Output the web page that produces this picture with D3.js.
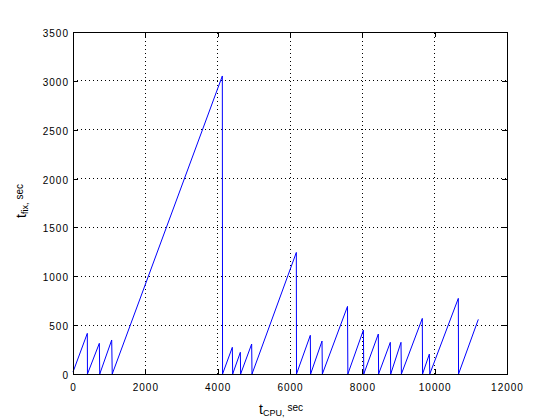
<!DOCTYPE html>
<html><head><meta charset="utf-8">
<script src="https://d3js.org/d3.v7.min.js"></script>
<style>
body{margin:0;background:#fff;}
svg{display:block;font-family:"Liberation Sans",Arial,Helvetica,sans-serif;}
</style></head><body>
<svg id="c" width="560" height="420"></svg>
<script>
// Polyline vertices of the sawtooth (t_CPU, t_fix)
const tCpu = [0,396,400,728,740,1070,1085,4129,4135,4405,4415,4627,4635,4940,4950,6175,6180,6562,6570,6885,6895,7590,7600,8030,8040,8442,8450,8774,8785,9069,9080,9658,9665,9853,9865,10654,10660,11207];
const tFix = [20,416,0,314,0,348,0,3050,0,273,0,222,0,307,0,1244,0,396,0,337,0,692,0,450,0,409,0,324,0,324,0,569,0,204,0,774,0,559];
const xTicks = [0,2000,4000,6000,8000,10000,12000];
const yTicks = [0,500,1000,1500,2000,2500,3000,3500];

const svg = d3.select("#c");
const L = 73, R = 507, T = 32, B = 374;
const x = d3.scaleLinear().domain([0,12000]).range([L,R]);
const y = d3.scaleLinear().domain([0,3500]).range([B,T]);

// grid
const g = svg.append("g").attr("shape-rendering","crispEdges");
g.selectAll(".gx").data(xTicks.slice(1,-1)).join("line")
  .attr("x1",d=>x(d)).attr("x2",d=>x(d)).attr("y1",B).attr("y2",T)
  .attr("stroke","#000").attr("stroke-width",1).attr("stroke-dasharray","1,3");
g.selectAll(".gy").data(yTicks.slice(1,-1)).join("line")
  .attr("y1",d=>y(d)).attr("y2",d=>y(d)).attr("x1",L).attr("x2",R)
  .attr("stroke","#000").attr("stroke-width",1).attr("stroke-dasharray","1,3");

// data line
const pts = tCpu.map((v,i)=>[v,tFix[i]]);
svg.append("path").datum(pts)
  .attr("d", d3.line().x(d=>x(d[0])).y(d=>y(d[1])))
  .attr("fill","none").attr("stroke","#0000ff").attr("stroke-width",1);

// axes
const fmt = d3.format("d");
const ax = svg.append("g").attr("transform",`translate(0,${B})`)
  .call(d3.axisBottom(x).tickValues(xTicks).tickFormat(fmt).tickSize(-5).tickPadding(10).tickSizeOuter(0));
const ay = svg.append("g").attr("transform",`translate(${L},0)`)
  .call(d3.axisLeft(y).tickValues(yTicks).tickFormat(fmt).tickSize(-5).tickPadding(4).tickSizeOuter(0));
const at = svg.append("g").attr("transform",`translate(0,${T})`)
  .call(d3.axisTop(x).tickValues(xTicks).tickSize(-5).tickFormat("").tickSizeOuter(0));
const ar = svg.append("g").attr("transform",`translate(${R},0)`)
  .call(d3.axisRight(y).tickValues(yTicks).tickSize(-5).tickFormat("").tickSizeOuter(0));
[ax,ay,at,ar].forEach(a=>{
  a.attr("shape-rendering","crispEdges");
  a.selectAll("path,line").attr("stroke","#000");
  a.selectAll("text").attr("fill","#000").style("font-size","10px").style("letter-spacing","1px")
   .style("font-family","'Liberation Sans',Arial,sans-serif");
});
ay.selectAll("text").attr("dy","0.45em");

// x label
const xl = svg.append("text").attr("x",259).attr("y",414).attr("fill","#000")
  .style("font-size","14px");
xl.append("tspan").text("t");
xl.append("tspan").attr("dy",1.5).style("font-size","9px").text("CPU,");
xl.append("tspan").attr("dy",-5).attr("dx",3).style("font-size","10px").text("sec");

// y label
const yl = svg.append("text").attr("transform","translate(26,218) rotate(-90)").attr("fill","#000")
  .style("font-size","14px");
yl.append("tspan").text("t");
yl.append("tspan").attr("dy",1.5).style("font-size","9px").text("fix,");
yl.append("tspan").attr("dy",-5).attr("dx",3).style("font-size","10px").text("sec");
</script>
</body></html>
